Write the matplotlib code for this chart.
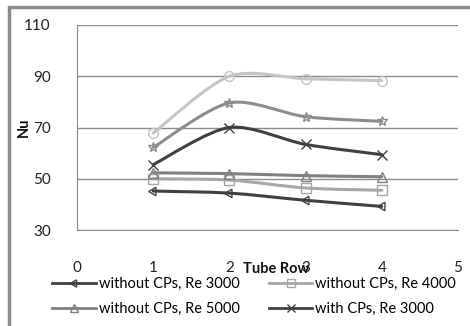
import matplotlib
matplotlib.use("Agg")
import matplotlib.pyplot as plt
from matplotlib.path import Path
from matplotlib.patches import PathPatch, Rectangle
from matplotlib.lines import Line2D
import numpy as np

plt.rcParams['font.family'] = ['Lato', 'DejaVu Sans']

tube_rows = [1, 2, 3, 4]
without_re3000 = [45.2, 44.4, 41.6, 39.2]
without_re4000 = [50.0, 49.5, 46.4, 45.5]
without_re5000 = [52.3, 52.0, 51.2, 50.8]
with_re3000 = [55.5, 70.0, 63.4, 59.4]
with_re4000 = [62.2, 79.6, 74.2, 72.4]
with_re5000 = [67.8, 90.0, 89.0, 88.3]

x_ticks = [0, 1, 2, 3, 4, 5]
y_ticks = [30, 50, 70, 90, 110]

series = [
    ("without CPs, Re 3000", without_re3000, "#404040", (3, 0, 90)),
    ("without CPs, Re 4000", without_re4000, "#a6a6a6", "s"),
    ("without CPs, Re 5000", without_re5000, "#808080", "^"),
    ("with CPs, Re 3000", with_re3000, "#404040", "x"),
    ("with CPs, Re 4000", with_re4000, "#8c8c8c", "*"),
    ("with CPs, Re 5000", with_re5000, "#c4c4c4", "o"),
]


def smooth_path(xs, ys, k=7.0):
    """Catmull-Rom style cubic Bezier through the given points."""
    pts = np.column_stack([xs, ys]).astype(float)
    n = len(pts)
    verts = [pts[0]]
    codes = [Path.MOVETO]
    for i in range(n - 1):
        p0 = pts[i - 1] if i > 0 else pts[i]
        p1 = pts[i]
        p2 = pts[i + 1]
        p3 = pts[i + 2] if i + 2 < n else pts[i + 1]
        c1 = p1 + (p2 - p0) / k
        c2 = p2 - (p3 - p1) / k
        verts += [c1, c2, p2]
        codes += [Path.CURVE4] * 3
    return Path(verts, codes)


W, H = 470, 326
fig = plt.figure(figsize=(W / 100, H / 100), dpi=100)
ax = fig.add_axes([77 / W, 1 - 230 / H, (458 - 77) / W, (230 - 25) / H])

for label, vals, color, marker in series:
    patch = PathPatch(smooth_path(tube_rows, vals), facecolor="none",
                      edgecolor=color, lw=2.2, transform=ax.transData,
                      capstyle="round", joinstyle="round", zorder=3)
    ax.add_patch(patch)
    ax.plot(tube_rows, vals, linestyle="none", marker=marker, ms=7,
            mfc="none", mec=color, mew=1.0, zorder=4)

ax.set_xlim(0, 5)
ax.set_ylim(30, 110)
ax.set_xticks(x_ticks)
ax.set_yticks(y_ticks)
ax.tick_params(length=0, labelsize=11, colors="#222222")
ax.tick_params(axis="x", pad=22)
ax.tick_params(axis="y", pad=19)
ax.grid(axis="y", color="#8a8a8a", lw=1.0)
ax.set_axisbelow(True)
for side in ["top", "right"]:
    ax.spines[side].set_visible(False)
ax.spines["left"].set_color("#8a8a8a")
ax.spines["bottom"].set_color("#8a8a8a")

fig.text(24 / W, 1 - 127 / H, "Nu", rotation=90, ha="center", va="center",
         fontsize=10.5, fontweight="bold", color="#111111")
fig.text(276 / W, 1 - 269 / H, "Tube Row", ha="center", va="center",
         fontsize=10.5, fontweight="bold", color="#111111")

handles = []
for label, vals, color, marker in series[:4]:
    handles.append(Line2D([], [], color=color, lw=2.0, marker=marker, ms=6,
                          mfc="none", mec=color, mew=1.0, label=label))
order = [0, 2, 1, 3]
fig.legend([handles[i] for i in order], [handles[i].get_label() for i in order],
           loc="upper left", bbox_to_anchor=(52 / W, 1 - 277 / H), ncol=2,
           frameon=False, fontsize=10.5, handlelength=3.0, handletextpad=0.2,
           columnspacing=2.0, labelspacing=0.75, borderpad=0, borderaxespad=0)

# outer frame of the chart
fig.patches.append(Rectangle((9 / W, -0.1), 1.2, 1.1 - 7 / H,
                             transform=fig.transFigure, fill=False,
                             edgecolor="#8c8c8c", lw=2.5))

fig.savefig("out.png", dpi=100)
